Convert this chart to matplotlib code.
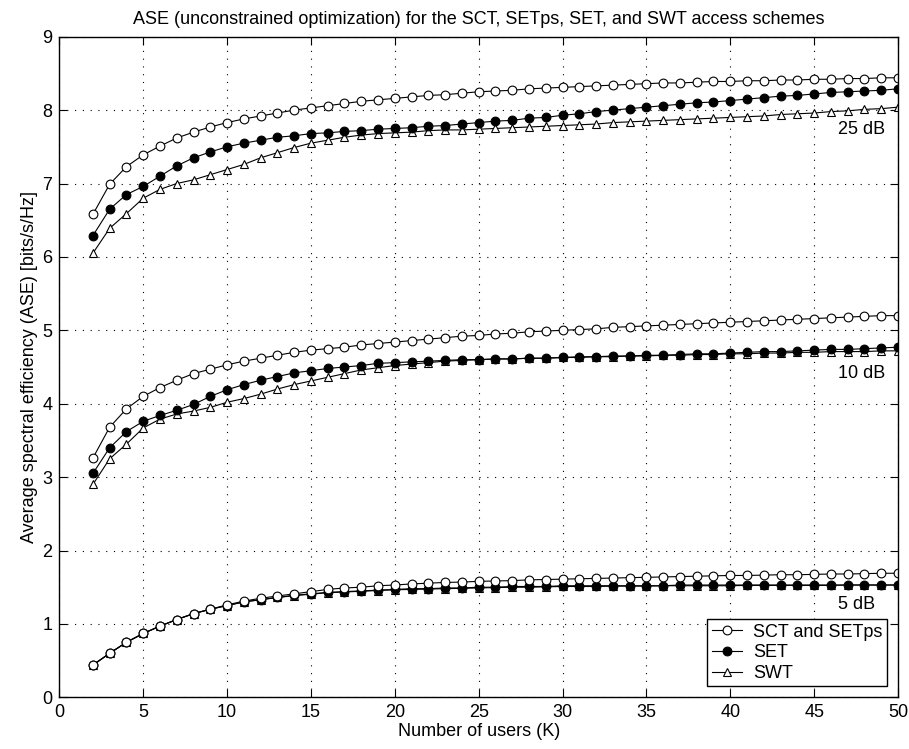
import numpy as np
import matplotlib
matplotlib.use('Agg')
import matplotlib.pyplot as plt

plt.rcParams['font.family'] = ['Liberation Sans', 'DejaVu Sans']

# Number of users
K = np.arange(2, 51)

# 25 dB
sct_25 = [6.58, 6.99, 7.23, 7.39, 7.51, 7.62, 7.70, 7.77, 7.83, 7.88,
          7.92, 7.96, 8.00, 8.03, 8.06, 8.09, 8.12, 8.14, 8.16, 8.18,
          8.20, 8.21, 8.23, 8.25, 8.26, 8.27, 8.29, 8.30, 8.31, 8.32,
          8.33, 8.34, 8.35, 8.36, 8.37, 8.37, 8.38, 8.39, 8.39, 8.40,
          8.40, 8.41, 8.41, 8.42, 8.42, 8.43, 8.43, 8.44, 8.44]
set_25 = [6.29, 6.65, 6.85, 6.96, 7.10, 7.24, 7.35, 7.43, 7.50, 7.55,
          7.59, 7.63, 7.65, 7.68, 7.69, 7.71, 7.72, 7.74, 7.75, 7.76,
          7.78, 7.79, 7.81, 7.83, 7.85, 7.86, 7.89, 7.90, 7.93, 7.95,
          7.98, 8.00, 8.02, 8.04, 8.06, 8.08, 8.10, 8.11, 8.13, 8.15,
          8.17, 8.19, 8.20, 8.22, 8.24, 8.25, 8.26, 8.27, 8.29]
swt_25 = [6.05, 6.39, 6.59, 6.80, 6.92, 7.00, 7.05, 7.12, 7.19, 7.26,
          7.35, 7.42, 7.49, 7.55, 7.59, 7.63, 7.66, 7.68, 7.69, 7.70,
          7.72, 7.73, 7.73, 7.74, 7.75, 7.76, 7.77, 7.78, 7.79, 7.80,
          7.81, 7.83, 7.84, 7.85, 7.86, 7.87, 7.88, 7.89, 7.90, 7.91,
          7.92, 7.94, 7.95, 7.96, 7.98, 7.99, 8.01, 8.02, 8.04]

# 10 dB
sct_10 = [3.26, 3.68, 3.93, 4.10, 4.22, 4.32, 4.41, 4.47, 4.53, 4.58,
          4.62, 4.66, 4.70, 4.73, 4.75, 4.77, 4.80, 4.82, 4.84, 4.86,
          4.88, 4.90, 4.92, 4.93, 4.95, 4.96, 4.98, 4.99, 5.00, 5.01,
          5.02, 5.04, 5.05, 5.06, 5.07, 5.08, 5.09, 5.10, 5.11, 5.12,
          5.13, 5.14, 5.15, 5.16, 5.17, 5.18, 5.19, 5.20, 5.20]
set_10 = [3.05, 3.40, 3.62, 3.76, 3.84, 3.91, 3.99, 4.10, 4.19, 4.26,
          4.32, 4.37, 4.42, 4.45, 4.48, 4.50, 4.52, 4.55, 4.56, 4.57,
          4.58, 4.59, 4.60, 4.60, 4.61, 4.61, 4.62, 4.62, 4.63, 4.64,
          4.64, 4.65, 4.65, 4.66, 4.66, 4.67, 4.68, 4.68, 4.69, 4.70,
          4.71, 4.71, 4.72, 4.73, 4.74, 4.74, 4.75, 4.76, 4.77]
swt_10 = [2.90, 3.25, 3.45, 3.67, 3.79, 3.86, 3.90, 3.95, 4.02, 4.07,
          4.13, 4.20, 4.26, 4.31, 4.36, 4.41, 4.46, 4.49, 4.52, 4.54,
          4.56, 4.58, 4.59, 4.60, 4.61, 4.61, 4.62, 4.62, 4.63, 4.63,
          4.64, 4.64, 4.65, 4.65, 4.66, 4.66, 4.67, 4.67, 4.68, 4.68,
          4.69, 4.69, 4.70, 4.70, 4.71, 4.71, 4.71, 4.72, 4.72]

# 5 dB
sct_5 = [0.44, 0.60, 0.75, 0.87, 0.97, 1.06, 1.14, 1.20, 1.26, 1.31,
         1.35, 1.38, 1.41, 1.44, 1.47, 1.49, 1.50, 1.52, 1.53, 1.545,
         1.555, 1.565, 1.57, 1.58, 1.585, 1.59, 1.60, 1.605, 1.61, 1.615,
         1.62, 1.625, 1.63, 1.635, 1.64, 1.645, 1.65, 1.655, 1.66, 1.66,
         1.665, 1.67, 1.67, 1.675, 1.68, 1.68, 1.685, 1.69, 1.69]
set_5 = [0.44, 0.60, 0.75, 0.87, 0.97, 1.06, 1.14, 1.20, 1.25, 1.30,
         1.33, 1.36, 1.39, 1.41, 1.43, 1.44, 1.45, 1.46, 1.47, 1.48,
         1.48, 1.49, 1.49, 1.50, 1.50, 1.51, 1.51, 1.51, 1.52, 1.52,
         1.52, 1.52, 1.52, 1.52, 1.52, 1.53, 1.53, 1.53, 1.53, 1.53,
         1.53, 1.53, 1.53, 1.53, 1.53, 1.53, 1.53, 1.53, 1.53]
swt_5 = [0.44, 0.60, 0.75, 0.87, 0.97, 1.06, 1.14, 1.20, 1.25, 1.30,
         1.33, 1.36, 1.385, 1.405, 1.425, 1.435, 1.445, 1.455, 1.465, 1.47,
         1.475, 1.48, 1.485, 1.49, 1.495, 1.50, 1.50, 1.505, 1.51, 1.51,
         1.51, 1.515, 1.515, 1.515, 1.52, 1.52, 1.52, 1.52, 1.52, 1.525,
         1.525, 1.525, 1.525, 1.525, 1.525, 1.53, 1.53, 1.53, 1.53]

snr_labels = ['25 dB', '10 dB', '5 dB']
label_y = [7.73, 4.41, 1.26]

fs = 13

fig = plt.figure(figsize=(9.09, 7.49), dpi=100)
ax = fig.add_axes([0.0653, 0.069, 0.9226, 0.882])

groups = [(sct_25, set_25, swt_25), (sct_10, set_10, swt_10), (sct_5, set_5, swt_5)]
ms = 6.3
lw = 0.8
for i, (a, b, c) in enumerate(groups):
    ax.plot(K, c, '-^', color='black', mfc='white', mec='black', ms=ms, lw=lw, mew=0.8,
            label='SWT' if i == 0 else None)
    ax.plot(K, b, '-o', color='black', mfc='black', mec='black', ms=ms, lw=lw, mew=0.8,
            label='SET' if i == 0 else None)
    ax.plot(K, a, '-o', color='black', mfc='white', mec='black', ms=ms, lw=lw, mew=0.8,
            label='SCT and SETps' if i == 0 else None)

for txt, yy in zip(snr_labels, label_y):
    ax.text(46.4, yy, txt, fontsize=fs, ha='left', va='center')

ax.set_xlim(0, 50)
ax.set_ylim(0, 9)
ax.set_xticks(np.arange(0, 51, 5))
ax.set_yticks(np.arange(0, 10, 1))
ax.grid(True, color='black', linestyle=(0, (1, 6)), linewidth=0.8)
ax.tick_params(direction='in', top=True, right=True, length=6, labelsize=fs, pad=5)
for sp in ax.spines.values():
    sp.set_linewidth(1.0)

ax.set_title('ASE (unconstrained optimization) for the SCT, SETps, SET, and SWT access schemes',
             fontsize=fs, pad=9)
ax.set_xlabel('Number of users (K)', fontsize=fs, labelpad=1)
ax.set_ylabel('Average spectral efficiency (ASE) [bits/s/Hz]', fontsize=fs, labelpad=3)

h, l = ax.get_legend_handles_labels()
order = [2, 1, 0]
leg = ax.legend([h[j] for j in order], [l[j] for j in order], loc='lower right',
                fontsize=fs, fancybox=False, framealpha=1, edgecolor='black',
                borderaxespad=0.6, handlelength=1.7, handletextpad=0.6,
                borderpad=0.25, labelspacing=0.2)
leg.get_frame().set_linewidth(1.0)

plt.savefig('out.png', dpi=100)
